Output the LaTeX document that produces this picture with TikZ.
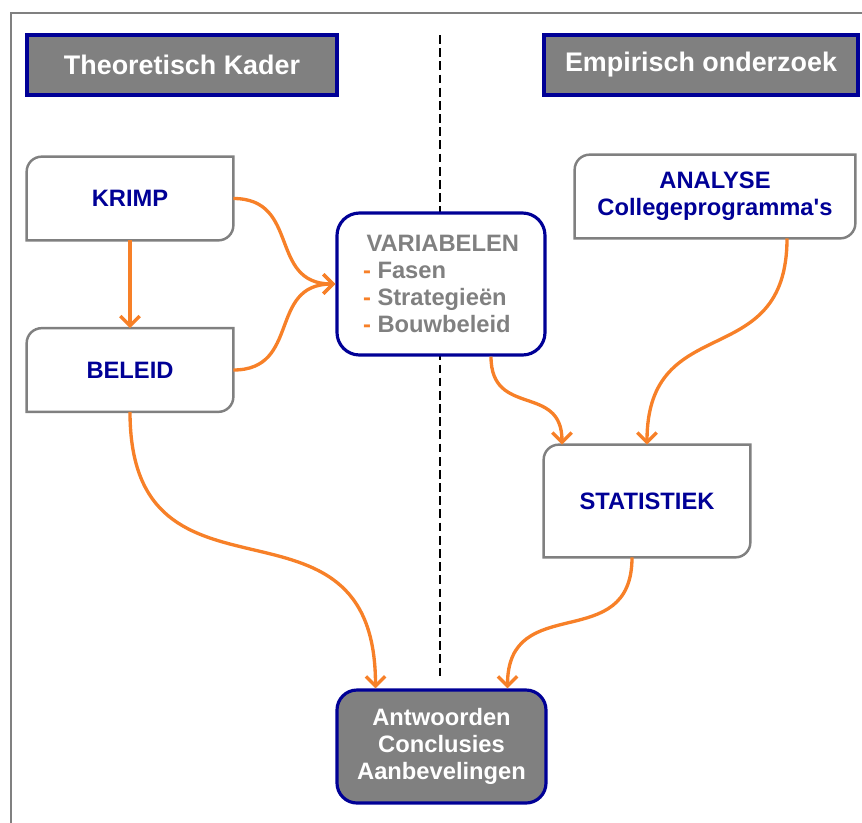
\documentclass[tikz,border=0pt]{standalone}
\usepackage{fontspec}
\setmainfont{Liberation Sans}
\usetikzlibrary{arrows.meta}
\definecolor{oranje}{RGB}{247,128,40}
\definecolor{donkerblauw}{RGB}{0,0,150}
\definecolor{grijs}{RGB}{128,128,128}
% rand met twee afgeronde hoeken (linksboven, rechtsonder)
\newcommand{\hoekrand}[1]{%
  \draw[grijs,line width=1.4pt] ([xshift=0.3cm]#1.north west) -- (#1.north east)
    -- ([yshift=0.3cm]#1.south east) arc[start angle=0,end angle=-90,radius=0.3cm]
    -- (#1.south west) -- ([yshift=-0.3cm]#1.north west)
    arc[start angle=180,end angle=90,radius=0.3cm] -- cycle;}

\begin{document}
\begin{tikzpicture}[
    kop/.style={fill=grijs,draw=donkerblauw,line width=1.8pt,text=white,
      font=\fontsize{15.3}{18}\selectfont\bfseries,minimum height=1.2cm,inner sep=0pt},
    blok/.style={minimum width=4.12cm,minimum height=1.66cm,inner sep=0pt,
      text=donkerblauw,align=center,font=\fontsize{13.5}{15.2}\selectfont\bfseries},
    pijl/.style={oranje,line width=1.9pt,->},
    >={Straight Barb[length=5.5pt,width=11pt]}]
  \useasboundingbox (0,0) rectangle (17.24,-16.44);
  \draw[grijs,line width=1.1pt] (0.22,-16.5) -- (0.22,-0.26) -- (17.3,-0.26);
  \draw[line width=0.9pt,dash pattern=on 5pt off 2.5pt] (8.8,-0.7) -- (8.8,-13.6);

  \node[kop,minimum width=6.2cm] (kader) at (3.64,-1.3) {Theoretisch Kader};
  \node[kop,minimum width=6.28cm] (empirie) at (14.02,-1.3) {Empirisch onderzoek};

  \node[blok] (krimp) at (2.6,-3.97) {KRIMP};
  \node[blok] (beleid) at (2.6,-7.4) {BELEID};
  \node[blok,minimum width=5.6cm] (analyse) at (14.3,-3.93) {ANALYSE\\Collegeprogramma\textquotesingle s};
  \node[blok,minimum height=2.24cm] (statistiek) at (12.94,-10.02) {STATISTIEK};
  \foreach \n in {krimp,beleid,analyse,statistiek} \hoekrand{\n};

  \node[blok,draw=donkerblauw,fill=white,line width=1.8pt,rounded corners=0.45cm,
    minimum width=4.16cm,minimum height=2.84cm,text=grijs,align=left]
    (variabelen) at (8.82,-5.68)
    {\hspace{2pt}VARIABELEN\\\textcolor{oranje}{-} Fasen\\\textcolor{oranje}{-} Strategieën\\\textcolor{oranje}{-} Bouwbeleid};
  \node[blok,fill=grijs,draw=donkerblauw,line width=1.8pt,rounded corners=0.4cm,
    minimum width=4.18cm,minimum height=2.26cm,text=white]
    (antw) at (8.83,-14.93) {Antwoorden\\Conclusies\\Aanbevelingen};

  \draw[pijl] (krimp) -- (beleid);
  \draw[pijl] (krimp.east) to[out=0,in=180,looseness=1.3] (variabelen.west);
  \draw[pijl] (beleid.east) to[out=0,in=180,looseness=1.3] (variabelen.west);
  \draw[pijl] (beleid.south) to[out=-90,in=90,looseness=1.5] ([xshift=-1.32cm]antw.north);
  \draw[pijl] ([xshift=1cm]variabelen.south) to[out=-90,in=90,looseness=1.4] ([xshift=-1.7cm]statistiek.north);
  \draw[pijl] ([xshift=1.44cm]analyse.south) to[out=-90,in=90,looseness=1.4] (statistiek.north);
  \draw[pijl] ([xshift=-0.3cm]statistiek.south) to[out=-90,in=90,looseness=1.4] ([xshift=1.32cm]antw.north);
\end{tikzpicture}
\end{document}
